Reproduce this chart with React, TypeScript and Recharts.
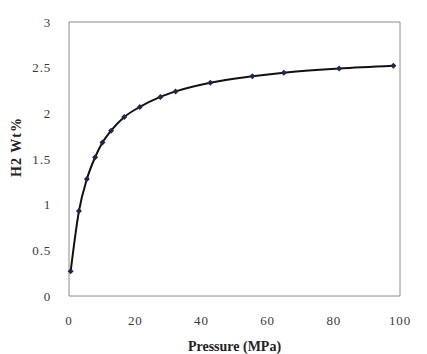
import { LineChart, Line, XAxis, YAxis, ReferenceLine, Label } from "recharts"

// hydrogen uptake vs pressure
const pressure = [0.5, 3.0, 5.4, 7.9, 10.1, 12.7, 16.7, 21.4, 27.6, 32.2, 42.7, 55.4, 64.9, 81.6, 98.0]
const wtPercent = [0.27, 0.93, 1.28, 1.52, 1.68, 1.81, 1.96, 2.07, 2.18, 2.24, 2.335, 2.405, 2.445, 2.49, 2.52]
const xTicks = [0, 20, 40, 60, 80, 100]
const yTicks = [0, 0.5, 1, 1.5, 2, 2.5, 3]

const data = pressure.map((p, i) => ({ p, wt: wtPercent[i] }))

const serif = "Liberation Serif, Times New Roman, serif"
const axisGrey = "#8c8c8c"
const tickStyle = { fontFamily: serif, fontSize: 13, fill: "#3a3a3a", letterSpacing: 0.8 }
const titleStyle = { fontFamily: serif, fontSize: 14, fontWeight: "bold", fill: "#222" }

const Diamond = (props: any) => {
    const { cx, cy } = props
    if (cx == null || cy == null) return null
    const r = 3
    return (
        <polygon
            points={`${cx},${cy - r} ${cx + r},${cy} ${cx},${cy + r} ${cx - r},${cy}`}
            fill="#1c2a48"
        />
    )
}

export default function App() {
    return (
        <div style={{ position: "absolute", left: 0, top: 0, background: "#fff", fontFamily: serif }}>
            <LineChart width={427} height={354} data={data} margin={{ top: 22, right: 27, left: 0, bottom: 0 }}>
                <XAxis
                    dataKey="p"
                    type="number"
                    domain={[0, 100]}
                    ticks={xTicks}
                    height={58}
                    stroke={axisGrey}
                    tickLine={false}
                    tickSize={0}
                    tickMargin={20}
                    tick={tickStyle}
                >
                    <Label value="Pressure (MPa)" position="insideBottom" offset={3} fontFamily={serif} style={titleStyle} />
                </XAxis>
                <YAxis
                    type="number"
                    domain={[0, 3]}
                    ticks={yTicks}
                    width={69}
                    stroke={axisGrey}
                    tickLine={false}
                    tickSize={0}
                    tickMargin={18}
                    tick={tickStyle}
                    label={{
                        content: () => (
                            <text
                                x={16}
                                y={147}
                                transform="rotate(-90 16 147)"
                                textAnchor="middle"
                                dominantBaseline="central"
                                fontFamily={serif}
                                style={{ ...titleStyle, letterSpacing: 1 }}
                            >
                                H2 Wt%
                            </text>
                        ),
                    }}
                />
                <ReferenceLine y={3} stroke={axisGrey} />
                <ReferenceLine x={100} stroke={axisGrey} />
                <Line
                    type="monotone"
                    dataKey="wt"
                    stroke="#111"
                    strokeWidth={2}
                    dot={<Diamond />}
                    activeDot={false}
                    isAnimationActive={false}
                />
            </LineChart>
        </div>
    )
}
